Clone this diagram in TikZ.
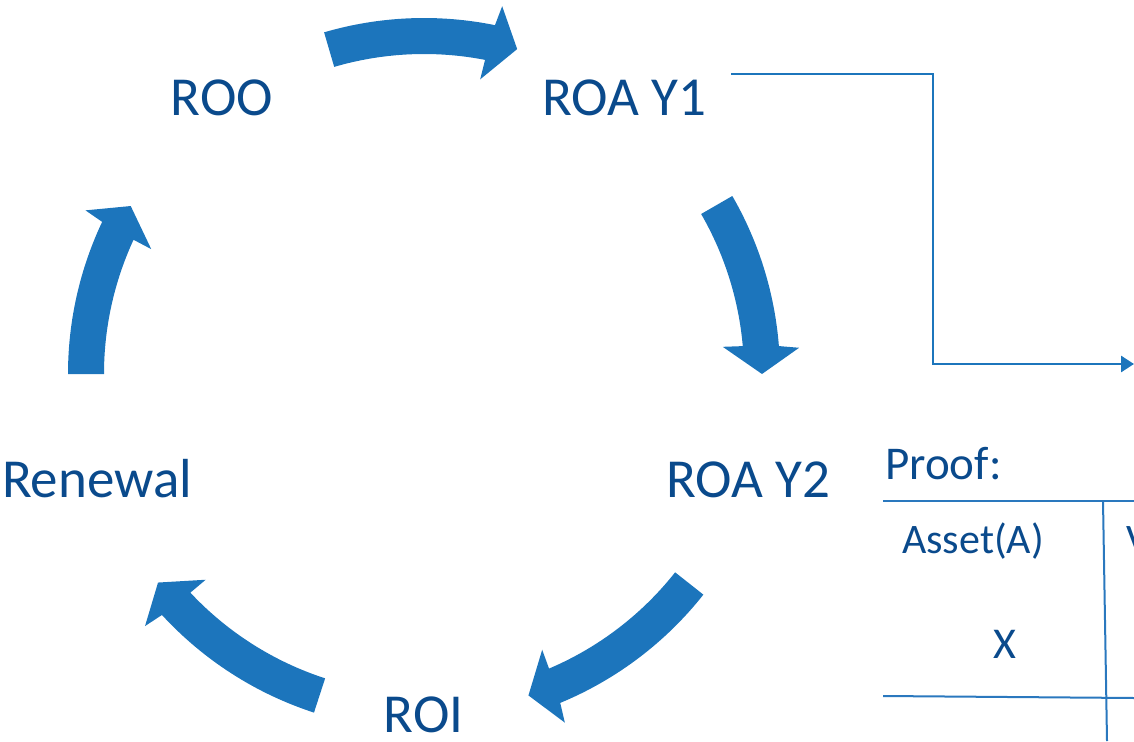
\documentclass[tikz,border=0pt]{standalone}
\usepackage{fontspec}
\setmainfont{Carlito}
\usetikzlibrary{arrows.meta}
\definecolor{cyclefill}{HTML}{1C75BC}
\definecolor{labelblue}{HTML}{0A4A8C}
\definecolor{rulecol}{HTML}{2A78BE}
\tikzset{
  stage/.style={text=labelblue, font=\fontsize{55}{60}\selectfont, inner sep=0pt, anchor=base},
  tabhead/.style={text=labelblue, font=\fontsize{42}{48}\selectfont, inner sep=0pt, anchor=base},
  tabtitle/.style={text=labelblue, font=\fontsize{47}{54}\selectfont, inner sep=0pt, anchor=base west},
  tabcell/.style={text=labelblue, font=\fontsize{44}{50}\selectfont, inner sep=0pt, anchor=base},
  link/.style={draw=cyclefill, line width=2.8pt, -{Triangle[length=13pt,width=16pt]}},
  tabrule/.style={draw=rulecol, line width=2pt},
}
% curved cycle arrow on the ring: #1 = tail angle, #2 = tip angle (clockwise)
\newcommand\cyclearrow[2]{%
  \fill[cyclefill] (#1:356pt)
    arc[start angle=#1, end angle={#2+4.5}, radius=356pt]
    -- ({#2+4}:376pt) -- (#2:338pt) -- ({#2+5.2}:300pt) -- ({#2+5}:320pt)
    arc[start angle={#2+5}, end angle=#1, radius=320pt] -- cycle;
}
\begin{document}
\begin{tikzpicture}[x=1pt,y=1pt]
\useasboundingbox (0,0) rectangle (1134,-741);
\clip (0,0) rectangle (1134,-741);

% ring of arrows
\begin{scope}[shift={(424,-374)}]
  \cyclearrow{106.3}{74}
  \cyclearrow{30}{0}
  \cyclearrow{-38.3}{-72}
  \cyclearrow{-108}{-141.9}
  \cyclearrow{180}{150.2}
\end{scope}

% stages
\node[stage] (roo)     at (222,-116) {ROO};
\node[stage] (roay1)   at (624.5,-116) {ROA Y1};
\node[stage] (roay2)   at (748.5,-497) {ROA Y2};
\node[stage, text depth=0pt] (roi) at (423.5,-732) {ROI};
\node[stage] (renewal) at (97,-497) {Renewal};

% proof table
\node[tabtitle] (proof) at (885,-479) {Proof:};
\node[tabhead] (asset) at (973,-553) {Asset(A)};
\node[tabhead, anchor=base west] (vcol) at (1126,-553) {V};
\node[tabcell] (xval) at (1004.5,-658) {X};
\coordinate (rtopL) at (883,-501);
\coordinate (rtopR) at (1134,-501);
\coordinate (rbotL) at (883,-696);
\coordinate (rbotR) at (1134,-698);
\coordinate (vtop) at (1103,-501);
\coordinate (vbot) at (1107,-741);
\draw[tabrule] (rtopL) -- (rtopR);
\draw[tabrule] (rbotL) -- (rbotR);
\draw[tabrule] (vtop) -- (vbot);

% connector from ROA Y1 to the proof
\coordinate (linkstart) at (731,-74);
\coordinate (knee) at (933,-364);
\coordinate (linkend) at (1134,-364);
\draw[link] (linkstart) -| (knee) -- (linkend);
\end{tikzpicture}
\end{document}
